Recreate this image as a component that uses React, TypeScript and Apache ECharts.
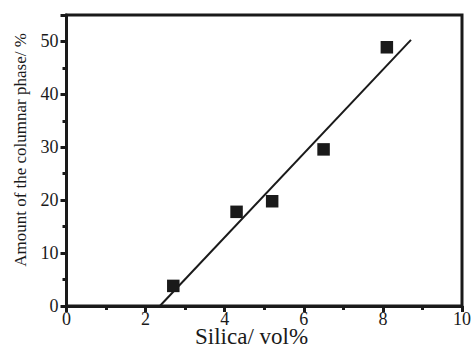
import React, { useEffect, useRef } from "react";
import * as echarts from "echarts";

const silica = [2.7, 4.3, 5.2, 6.5, 8.1];
const columnar = [3.8, 17.8, 19.8, 29.6, 48.9];
const fitX = [2.36, 8.71];
const fitY = [0, 50.3];
const xTickLabels = [0, 2, 4, 6, 8, 10];
const yTickLabels = [0, 10, 20, 30, 40, 50];
const xTitle = "Silica/ vol%";
const yTitle = "Amount of the columnar phase/ %";

const FONT = "Liberation Serif";
const INK = "#1a1a1a";

export default function App() {
  const ref = useRef<HTMLDivElement>(null);
  useEffect(() => {
    const chart = echarts.init(ref.current!, null, { renderer: "svg" });
    const axisBase = {
      type: "value",
      axisLine: { show: true, lineStyle: { color: INK, width: 3 } },
      axisTick: { show: true, length: 6, lineStyle: { color: INK, width: 3 } },
      minorTick: { show: true, splitNumber: 2, length: 4, lineStyle: { color: INK, width: 3 } },
      splitLine: { show: false },
      axisLabel: { show: false },
    };
    chart.setOption({
      animation: false,
      backgroundColor: "#fff",
      grid: { left: 66.5, top: 15, width: 395.5, height: 291, show: true, borderColor: INK, borderWidth: 3 },
      xAxis: [{ ...axisBase, min: 0, max: 10, interval: 2 }],
      yAxis: [{ ...axisBase, min: 0, max: 55, interval: 10 }],
      series: [
        { type: "line", data: fitX.map((x, i) => [x, fitY[i]]), showSymbol: false, symbol: "none",
          lineStyle: { color: INK, width: 2 }, silent: true },
        { type: "scatter", data: silica.map((x, i) => [x, columnar[i]]), symbol: "rect", symbolSize: 12.5,
          itemStyle: { color: INK, opacity: 1 } },
      ],
    });
    const labels: any[] = [];
    xTickLabels.forEach((v) => {
      const p = chart.convertToPixel({ gridIndex: 0 }, [v, 0]) as number[];
      labels.push({ type: "text", x: p[0], y: p[1] + 4, style: { text: String(v), font: `18px ${FONT}`, fill: INK, align: "center", verticalAlign: "top" } });
    });
    yTickLabels.forEach((v) => {
      const p = chart.convertToPixel({ gridIndex: 0 }, [0, v]) as number[];
      labels.push({ type: "text", x: p[0] - 8, y: p[1], style: { text: String(v), font: `18px ${FONT}`, fill: INK, align: "right", verticalAlign: "middle" } });
    });
    chart.setOption({
      graphic: [
        ...labels,
        { type: "text", x: 195, y: 325, style: { text: xTitle, font: `23px ${FONT}`, fill: INK, verticalAlign: "top" } },
        { type: "text", x: 12, y: 150, rotation: Math.PI / 2, style: { text: yTitle, font: `17px ${FONT}`, fill: INK, align: "center", verticalAlign: "top" } },
      ],
    });
    return () => chart.dispose();
  }, []);
  return <div ref={ref} style={{ position: "fixed", left: 0, top: 0, width: 473, height: 348 }} />;
}
